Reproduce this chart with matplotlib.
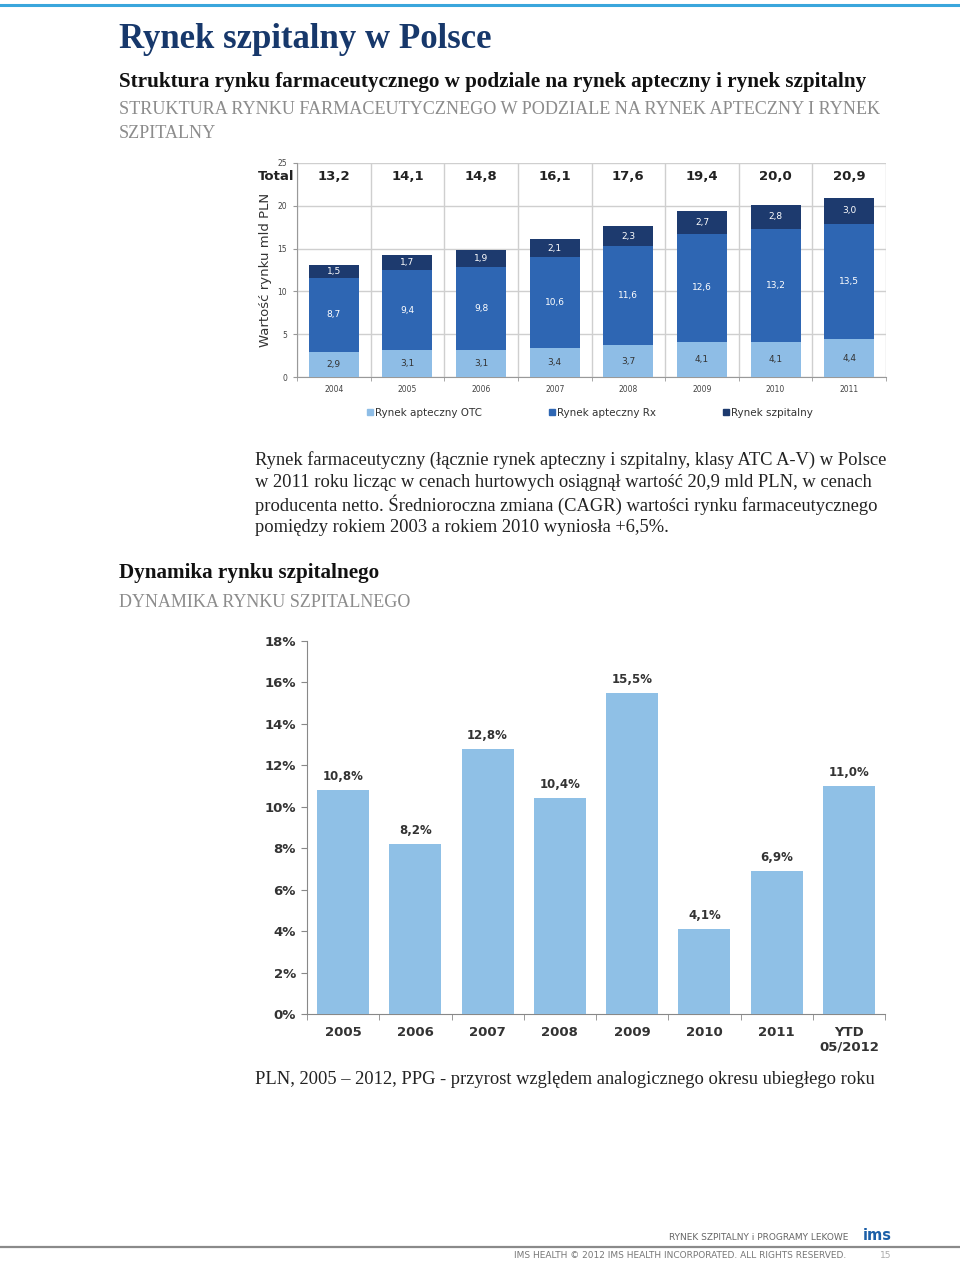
import matplotlib.pyplot as plt
import numpy as np
from matplotlib.patches import Patch
from matplotlib.lines import Line2D

# --- data ---
years = ["2004", "2005", "2006", "2007", "2008", "2009", "2010", "2011"]
otc = [2.9, 3.1, 3.1, 3.4, 3.7, 4.1, 4.1, 4.4]
rx = [8.7, 9.4, 9.8, 10.6, 11.6, 12.6, 13.2, 13.5]
szp = [1.5, 1.7, 1.9, 2.1, 2.3, 2.7, 2.8, 3.0]
totals = [13.2, 14.1, 14.8, 16.1, 17.6, 19.4, 20.0, 20.9]

dyn_labels = ["2005", "2006", "2007", "2008", "2009", "2010", "2011", "YTD\n05/2012"]
dyn_values = [10.8, 8.2, 12.8, 10.4, 15.5, 4.1, 6.9, 11.0]

W, H = 960, 1261
fig = plt.figure(figsize=(W / 100, H / 100), dpi=100)


def fx(px):
    return px / W


def fy(py):
    return 1 - py / H


def axes_px(left, top, right, bottom):
    return fig.add_axes([fx(left), fy(bottom), (right - left) / W, (bottom - top) / H])


serif = "Liberation Serif"
navy = "#17386b"
grey_txt = "#8c8c8c"

# page decorations
fig.add_artist(Line2D([0, 1], [fy(5), fy(5)], color="#3aa6dc", lw=2.2))
fig.add_artist(Line2D([0, 1], [fy(1247), fy(1247)], color="#8a8a8a", lw=1.6))

fig.text(fx(119), fy(40), "Rynek szpitalny w Polsce", family=serif, weight="bold",
         size=25, color=navy, va="center")
fig.text(fx(119), fy(82), "Struktura rynku farmaceutycznego w podziale na rynek apteczny i rynek szpitalny",
         family=serif, weight="bold", size=15.2, color="#111111", va="center")
fig.text(fx(119), fy(110), "STRUKTURA RYNKU FARMACEUTYCZNEGO W PODZIALE NA RYNEK APTECZNY I RYNEK",
         family=serif, size=13.1, color=grey_txt, va="center")
fig.text(fx(119), fy(133), "SZPITALNY", family=serif, size=13.1, color=grey_txt, va="center")

# --- chart 1: stacked bars ---
c_otc, c_rx, c_szp = "#8ebde6", "#2e66b3", "#1d3a6e"
ax1 = axes_px(297, 163, 886, 377)
x = np.arange(len(years))
bw = 0.68
otc_a, rx_a, szp_a = np.array(otc), np.array(rx), np.array(szp)
ax1.bar(x, otc_a, bw, color=c_otc, zorder=3)
ax1.bar(x, rx_a, bw, bottom=otc_a, color=c_rx, zorder=3)
ax1.bar(x, szp_a, bw, bottom=otc_a + rx_a, color=c_szp, zorder=3)
for i in range(len(years)):
    ax1.text(x[i], otc_a[i] / 2, f"{otc[i]:.1f}".replace(".", ","), ha="center", va="center",
             size=6.5, color="#333333", zorder=4)
    ax1.text(x[i], otc_a[i] + rx_a[i] / 2, f"{rx[i]:.1f}".replace(".", ","), ha="center",
             va="center", size=6.5, color="white", zorder=4)
    ax1.text(x[i], otc_a[i] + rx_a[i] + szp_a[i] / 2, f"{szp[i]:.1f}".replace(".", ","),
             ha="center", va="center", size=6.5, color="white", zorder=4)
    ax1.text(x[i], 23.4, f"{totals[i]:.1f}".replace(".", ","), ha="center", va="center",
             size=9.5, weight="bold", color="#222222")
ax1.text(-0.54, 23.4, "Total", ha="right", va="center", size=9.5, weight="bold", color="#222222")

ax1.set_xlim(-0.5, len(years) - 0.5)
ax1.set_ylim(0, 25)
ax1.set_yticks([0, 5, 10, 15, 20, 25])
ax1.set_xticks(x)
ax1.set_xticklabels(years)
ax1.set_xticks(np.arange(-0.5, len(years)), minor=True)
ax1.tick_params(axis="x", which="major", length=0, labelsize=5.5, labelcolor="#444444", pad=6)
ax1.tick_params(axis="x", which="minor", length=3, color="#999999")
ax1.tick_params(axis="y", labelsize=5.5, labelcolor="#444444", length=3, color="#999999", pad=4)
ax1.grid(True, axis="y", color="#cfcfcf", lw=1, zorder=0)
ax1.grid(True, axis="x", which="minor", color="#cfcfcf", lw=1, zorder=0)
for s in ["top", "right"]:
    ax1.spines[s].set_visible(False)
ax1.spines["left"].set_color("#999999")
ax1.spines["bottom"].set_color("#999999")
ax1.set_ylabel("Wartość rynku mld PLN", size=9.5, color="#333333", labelpad=4)

handles = [Patch(color=c_otc), Patch(color=c_rx), Patch(color=c_szp)]
fig.legend(handles, ["Rynek apteczny OTC", "Rynek apteczny Rx", "Rynek szpitalny"],
           loc="center left", bbox_to_anchor=(fx(367), fy(413)), ncol=3, frameon=False,
           fontsize=7.5, handlelength=0.55, handleheight=0.55, handletextpad=0.25,
           columnspacing=6.4, labelcolor="#333333", borderaxespad=0, borderpad=0)

para = ["Rynek farmaceutyczny (łącznie rynek apteczny i szpitalny, klasy ATC A-V) w Polsce",
        "w 2011 roku licząc w cenach hurtowych osiągnął wartość 20,9 mld PLN, w cenach",
        "producenta netto. Średnioroczna zmiana (CAGR) wartości rynku farmaceutycznego",
        "pomiędzy rokiem 2003 a rokiem 2010 wyniosła +6,5%."]
for k, line in enumerate(para):
    fig.text(fx(255), fy(460 + 22.5 * k), line, family=serif, size=13.3, color="#222222",
             va="center")

fig.text(fx(119), fy(573), "Dynamika rynku szpitalnego", family=serif, weight="bold",
         size=15.2, color="#111111", va="center")
fig.text(fx(119), fy(602), "DYNAMIKA RYNKU SZPITALNEGO", family=serif, size=13.0,
         color=grey_txt, va="center")

# --- chart 2: growth bars ---
ax2 = axes_px(307, 641, 885, 1014)
x2 = np.arange(len(dyn_values))
ax2.bar(x2, dyn_values, 0.72, color="#8fc0e6", zorder=3)
for i, v in enumerate(dyn_values):
    ax2.text(x2[i], v + 0.35, f"{v:.1f}%".replace(".", ","), ha="center", va="bottom",
             size=8.5, weight="bold", color="#333333")
ax2.set_xlim(-0.5, len(dyn_values) - 0.5)
ax2.set_ylim(0, 18)
ax2.set_yticks(np.arange(0, 19, 2))
ax2.set_yticklabels([f"{t}%" for t in range(0, 19, 2)])
ax2.set_xticks(x2)
ax2.set_xticklabels(dyn_labels, weight="bold", linespacing=1.1)
ax2.set_xticks(np.arange(-0.5, len(dyn_values)), minor=True)
ax2.tick_params(axis="x", which="major", length=0, labelsize=9.5, labelcolor="#333333", pad=9)
ax2.tick_params(axis="x", which="minor", length=4, color="#888888")
ax2.tick_params(axis="y", labelsize=9.5, labelcolor="#333333", length=4, color="#888888", pad=4)
for lab in ax2.get_yticklabels():
    lab.set_weight("bold")
for s in ["top", "right"]:
    ax2.spines[s].set_visible(False)
ax2.spines["left"].set_color("#888888")
ax2.spines["bottom"].set_color("#888888")

fig.text(fx(255), fy(1079), "PLN, 2005 – 2012, PPG - przyrost względem analogicznego okresu ubiegłego roku",
         family=serif, size=13.3, color="#222222", va="center")

# footer
fig.text(fx(848), fy(1238), "RYNEK SZPITALNY i PROGRAMY LEKOWE", ha="right", va="center",
         size=6.5, color="#666666")
fig.text(fx(863), fy(1236), "ims", ha="left", va="center", size=10.5, weight="bold",
         color="#1b5fa8")
fig.text(fx(846), fy(1256), "IMS HEALTH © 2012 IMS HEALTH INCORPORATED. ALL RIGHTS RESERVED.",
         ha="right", va="center", size=6.5, color="#777777")
fig.text(fx(880), fy(1256), "15", ha="left", va="center", size=6.5, color="#aaaaaa")

fig.savefig("out.png", dpi=100)
